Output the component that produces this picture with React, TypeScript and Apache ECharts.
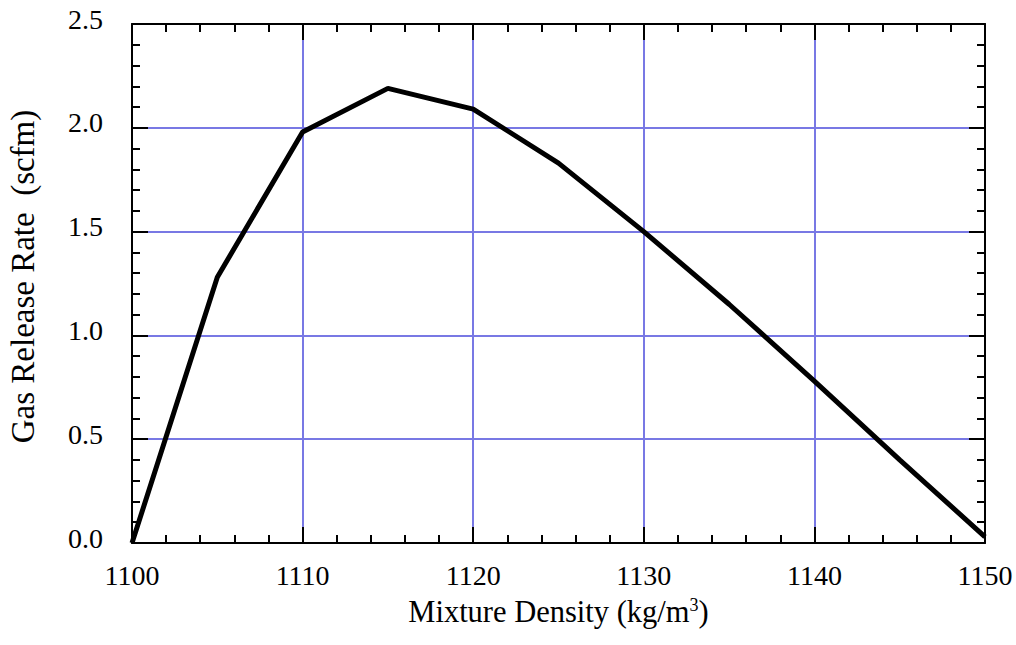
import React, { useEffect, useRef } from "react";
import * as echarts from "echarts";

const densities = [1100, 1105, 1110, 1115, 1120, 1125, 1130, 1135, 1140, 1145, 1150];
const releaseRates = [0.0, 1.28, 1.98, 2.19, 2.09, 1.83, 1.5, 1.15, 0.78, 0.4, 0.03];
const xTitle = "Mixture Density (kg/m{sup|3})";
const yTitle = "Gas Release Rate  (scfm)";

const FONT = "Liberation Serif";
const GRID_BLUE = "#7878e4";

export default function App() {
  const ref = useRef<HTMLDivElement>(null);
  useEffect(() => {
    if (!ref.current) return;
    const chart = echarts.init(ref.current, null, { renderer: "svg" });
    const axisLine = { show: true, onZero: false, lineStyle: { color: "#000", width: 2 } };
    const tick = { show: true, inside: true, length: 16, lineStyle: { color: "#000", width: 2 } };
    const minor = { show: true, splitNumber: 5, length: 8, lineStyle: { color: "#000", width: 2 } };
    const xCommon = { type: "value", min: 1100, max: 1150, interval: 10 };
    const yCommon = { type: "value", min: 0, max: 2.5, interval: 0.5 };
    chart.setOption({
      animation: false,
      backgroundColor: "#fff",
      grid: {
        left: 132,
        right: 31,
        top: 24,
        bottom: 102,
        containLabel: false,
        outerBoundsMode: "none",
      },
      xAxis: [
        {
          ...xCommon,
          position: "bottom",
          axisLine,
          axisTick: tick,
          minorTick: minor,
          splitLine: { show: true, lineStyle: { color: GRID_BLUE, width: 2 } },
          axisLabel: {
            color: "#000",
            fontFamily: FONT,
            fontSize: 28,
            margin: 18,
            formatter: (v: number) => String(v),
          },
          name: xTitle,
          nameLocation: "middle",
          nameGap: 53,
          nameTextStyle: {
            color: "#000",
            fontFamily: FONT,
            fontSize: 30.5,
            rich: {
              sup: { fontFamily: FONT, fontSize: 18, color: "#000", verticalAlign: "top", padding: [0, 0, 14, 0] },
            },
          },
        },
        {
          ...xCommon,
          position: "top",
          axisLine,
          axisTick: tick,
          minorTick: minor,
          splitLine: { show: false },
          axisLabel: { show: false },
        },
      ],
      yAxis: [
        {
          ...yCommon,
          position: "left",
          axisLine,
          axisTick: tick,
          minorTick: minor,
          splitLine: { show: true, lineStyle: { color: GRID_BLUE, width: 2 } },
          axisLabel: {
            color: "#000",
            fontFamily: FONT,
            fontSize: 28,
            margin: 29,
            verticalAlign: "bottom",
            lineHeight: 10,
            formatter: (v: number) => v.toFixed(1),
          },
          name: yTitle,
          nameLocation: "middle",
          nameGap: 93,
          nameTextStyle: { color: "#000", fontFamily: FONT, fontSize: 33, padding: [0, 0, 0, 14] },
        },
        {
          ...yCommon,
          position: "right",
          axisLine,
          axisTick: tick,
          minorTick: minor,
          splitLine: { show: false },
          axisLabel: { show: false },
        },
      ],
      series: [
        {
          type: "line",
          data: densities.map((d, i) => [d, releaseRates[i]]),
          showSymbol: false,
          symbol: "none",
          lineStyle: { color: "#000", width: 5 },
          z: 5,
        },
      ],
    });
    return () => chart.dispose();
  }, []);
  return (
    <div
      ref={ref}
      style={{ position: "fixed", left: 0, top: 0, width: 1016, height: 645, background: "#fff" }}
    />
  );
}
